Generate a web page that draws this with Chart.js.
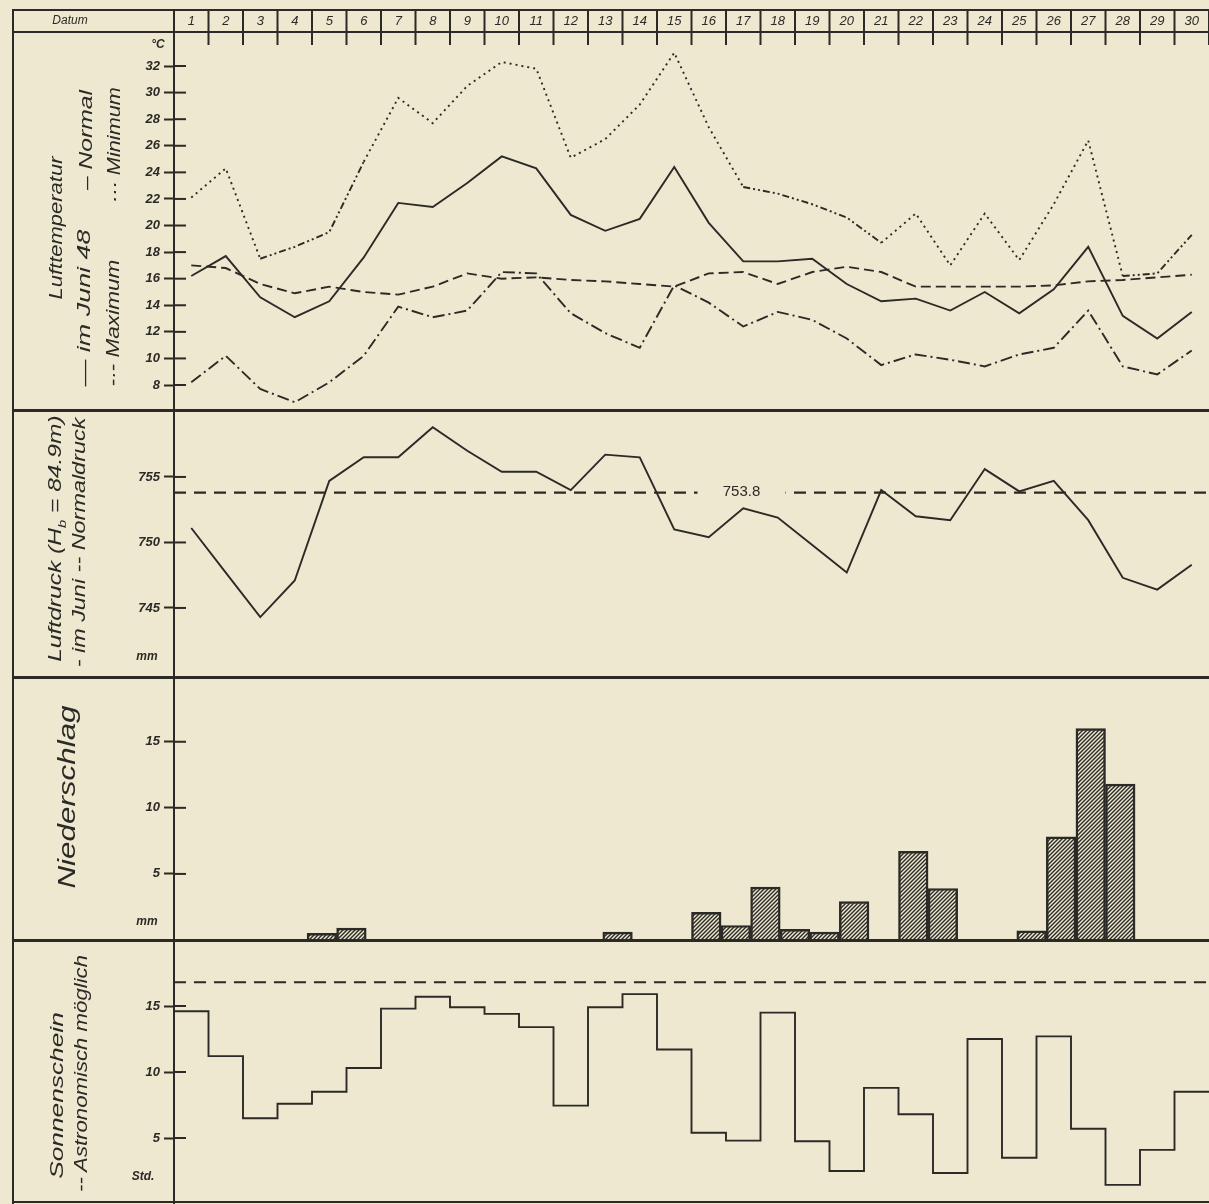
<!DOCTYPE html>
<html><head><meta charset="utf-8">
<script src="https://cdn.jsdelivr.net/npm/chart.js@4.4.1/dist/chart.umd.min.js"></script>
<style>
html,body{margin:0;padding:0;background:#ede8cf;}
#page{position:relative;width:1209px;height:1204px;overflow:hidden;background:#ede8cf;color:#2b2a26;font-family:'Liberation Sans Narrow','Liberation Sans',sans-serif;}
canvas{position:absolute;left:0;}
.ln{position:absolute;background:#2b2a26;}
.vt{position:absolute;white-space:nowrap;font-style:italic;line-height:1;transform-origin:center center;font-family:'Liberation Sans Narrow','Liberation Sans',sans-serif;}
.unit{position:absolute;font-style:italic;font-weight:bold;font-size:12px;font-family:'Liberation Sans Narrow','Liberation Sans',sans-serif;transform:translate(-50%,-50%);}
</style></head>
<body><div id="page">
<canvas id="cT" width="1209" height="410" style="top:0;width:1209px;height:410px"></canvas>
<canvas id="cP" width="1209" height="267" style="top:410px;width:1209px;height:267px"></canvas>
<canvas id="cR" width="1209" height="263" style="top:677px;width:1209px;height:263px"></canvas>
<canvas id="cS" width="1209" height="264" style="top:940px;width:1209px;height:264px"></canvas>
</div>
<script>
// ---------------- DATA ----------------
const days = [1,2,3,4,5,6,7,8,9,10,11,12,13,14,15,16,17,18,19,20,21,22,23,24,25,26,27,28,29,30];
const tempMean   = [16.2,17.7,14.6,13.1,14.3,17.6,21.7,21.4,23.2,25.2,24.3,20.8,19.6,20.5,24.4,20.2,17.3,17.3,17.5,15.6,14.3,14.5,13.6,15.0,13.4,15.2,18.4,13.2,11.5,13.5];
const tempNormal = [17.0,16.8,15.6,14.9,15.4,15.0,14.8,15.4,16.4,16.0,16.1,15.9,15.8,15.6,15.4,16.4,16.5,15.6,16.5,16.9,16.5,15.4,15.4,15.4,15.4,15.5,15.8,15.9,16.1,16.3];
const tempMax    = [22.1,24.3,17.5,18.4,19.5,24.8,29.6,27.7,30.5,32.3,31.8,25.1,26.5,29.1,33.0,27.4,22.9,22.4,21.6,20.6,18.7,20.9,17.0,20.9,17.4,21.6,26.4,16.2,16.4,19.3];
const tempMin    = [8.2,10.2,7.7,6.7,8.2,10.2,13.9,13.1,13.6,16.5,16.4,13.4,11.9,10.8,15.5,14.2,12.4,13.5,12.9,11.5,9.5,10.3,9.9,9.4,10.3,10.8,13.6,9.4,8.8,10.6];
const pressure   = [751.1,747.7,744.3,747.1,754.7,756.5,756.5,758.8,757.0,755.4,755.4,754.0,756.7,756.5,751.0,750.4,752.6,751.9,749.8,747.7,754.0,752.0,751.7,755.6,753.9,754.7,751.7,747.3,746.4,748.3];
const normalPressure = 753.8;
const precip     = [0,0,0.5,0.9,0,0,0,0,0,0,0,0,0.6,0,0,2.1,1.1,4.0,0.8,0.6,2.9,0,6.7,3.9,0,0,0.7,7.8,16.0,11.8];
const sunshine   = [14.6,11.2,6.5,7.6,8.5,10.3,14.8,15.7,14.9,14.4,13.4,7.45,14.9,15.9,11.7,5.4,4.8,14.5,4.75,2.5,8.8,6.8,2.35,12.5,3.5,12.7,5.7,1.45,4.1,8.5];
const sunPossible = 16.8;
const tempTicks = [32,30,28,26,24,22,20,18,16,14,12,10,8];
const pressTicks = [755,750,745];
const precipTicks = [15,10,5];
const sunTicks = [15,10,5];

// ---------------- STYLE ----------------
const INK = '#2b2a26', PAPER = '#ede8cf';
const AXIS_X = 174;
const X_MIN = 0.5, X_MAX = 30.5;
const NUMFONT = "'Liberation Sans Narrow','Liberation Sans',sans-serif";
Chart.defaults.font.family = NUMFONT;

function xAxis(){ return {type:'linear', min:X_MIN, max:X_MAX, display:false}; }
function yAxis(min,max,ticks){
  return {type:'linear', min:min, max:max, position:'left',
    afterBuildTicks: s => { s.ticks = ticks.map(v=>({value:v})); },
    afterFit: s => { s.width = AXIS_X; s.paddingTop = 0; s.paddingBottom = 0; },
    border:{display:false},
    grid:{drawOnChartArea:false, drawTicks:true, tickLength:10, tickWidth:2, tickColor:INK},
    ticks:{color:INK, padding:4, font:{family:NUMFONT, style:'italic', weight:'bold', size:13}}
  };
}
const innerTicks = {id:'innerTicks', afterDraw(chart){
  const s = chart.scales.y, ctx = chart.ctx, L = chart.chartArea.left;
  ctx.save(); ctx.strokeStyle = INK; ctx.lineWidth = 2;
  s.ticks.forEach(t => { const y = s.getPixelForValue(t.value); ctx.beginPath(); ctx.moveTo(L-1,y); ctx.lineTo(L+12,y); ctx.stroke(); });
  ctx.restore();
}};
const header = {id:'header', afterDraw(chart){
  const xs = chart.scales.x, ctx = chart.ctx;
  ctx.save(); ctx.strokeStyle = INK; ctx.lineWidth = 2;
  for (let k=0;k<=days.length;k++){
    const x = xs.getPixelForValue(k+0.5);
    ctx.beginPath(); ctx.moveTo(x,10); ctx.lineTo(x,45); ctx.stroke();
  }
  ctx.fillStyle = INK; ctx.textAlign='center'; ctx.textBaseline='middle';
  ctx.font = "italic 13px " + NUMFONT;
  days.forEach(d => ctx.fillText(String(d), xs.getPixelForValue(d), 21.5));
  ctx.font = "italic 12px " + NUMFONT;
  ctx.fillText('Datum', 70, 21);
  ctx.restore();
}};
const base = {responsive:false, animation:false, events:[], plugins:{legend:{display:false}, tooltip:{enabled:false}}};
function pts(arr){ return days.map((d,i)=>({x:d, y:arr[i]})); }
function lineDS(arr, dash, extra){ return Object.assign({type:'line', data:pts(arr), borderColor:INK, borderWidth:1.9, borderDash:dash, pointRadius:0, tension:0, fill:false}, extra||{}); }

// ---------------- TEMPERATURE ----------------
const dashDotSegs = [2,3,4,16,17,18,19,27,28];
new Chart(document.getElementById('cT'), {
  type:'line',
  data:{datasets:[
    lineDS(tempMean, []),
    lineDS(tempNormal, [10,5]),
    lineDS(tempMax, [2,4], {segment:{borderDash: c => dashDotSegs.includes(c.p0DataIndex) ? [7,3,2,3,2,3] : undefined}}),
    lineDS(tempMin, [12,4,2,4])
  ]},
  options: Object.assign({}, base, {
    layout:{padding:{top:32,left:0,right:0,bottom:0}},
    scales:{x:xAxis(), y:yAxis(6.12,34.56,tempTicks)}
  }),
  plugins:[innerTicks, header]
});

// ---------------- PRESSURE ----------------
const pLabel = {id:'pLabel', afterDatasetsDraw(chart){
  const ctx = chart.ctx, y = chart.scales.y.getPixelForValue(normalPressure), x = chart.scales.x.getPixelForValue(16.95);
  ctx.save(); ctx.fillStyle = PAPER; ctx.fillRect(x-44, y-9, 88, 18);
  ctx.fillStyle = INK; ctx.font = "15px 'Liberation Sans',sans-serif"; ctx.textAlign='center'; ctx.textBaseline='middle';
  ctx.fillText(normalPressure.toFixed(1), x, y-1); ctx.restore();
}};
new Chart(document.getElementById('cP'), {
  type:'line',
  data:{datasets:[
    lineDS(pressure, []),
    {type:'line', data:[{x:X_MIN,y:normalPressure},{x:X_MAX,y:normalPressure}], borderColor:INK, borderWidth:2.2, borderDash:[12,8], pointRadius:0, fill:false}
  ]},
  options: Object.assign({}, base, {
    layout:{padding:0},
    scales:{x:xAxis(), y:yAxis(739.73,760.11,pressTicks)}
  }),
  plugins:[innerTicks, pLabel]
});

// ---------------- PRECIPITATION ----------------
const rCanvas = document.getElementById('cR');
function hatch(){
  const c = document.createElement('canvas'); c.width = 4; c.height = 4;
  const g = c.getContext('2d'); g.strokeStyle = INK; g.lineWidth = 1.4;
  g.beginPath(); g.moveTo(0,4); g.lineTo(4,0); g.moveTo(-1,1); g.lineTo(1,-1); g.moveTo(3,5); g.lineTo(5,3); g.stroke();
  return rCanvas.getContext('2d').createPattern(c,'repeat');
}
new Chart(rCanvas, {
  type:'bar',
  data:{datasets:[{data: days.map((d,i)=>({x:d, y: precip[i] > 0 ? precip[i] : null})),
    backgroundColor: hatch(), borderColor:INK, borderWidth:1.8, borderSkipped:'bottom',
    barPercentage:1, categoryPercentage:1}]},
  options: Object.assign({}, base, {
    layout:{padding:0},
    scales:{x:xAxis(), y:yAxis(0,19.9,precipTicks)}
  }),
  plugins:[innerTicks]
});

// ---------------- SUNSHINE ----------------
const sunSteps = days.map((d,i)=>({x:d-0.5, y:sunshine[i]})).concat([{x:X_MAX, y:sunshine[sunshine.length-1]}]);
new Chart(document.getElementById('cS'), {
  type:'line',
  data:{datasets:[
    {data:sunSteps, stepped:'before', borderColor:INK, borderWidth:1.9, pointRadius:0, fill:false},
    {data:[{x:X_MIN,y:sunPossible},{x:X_MAX,y:sunPossible}], borderColor:INK, borderWidth:2, borderDash:[12,8], pointRadius:0, fill:false}
  ]},
  options: Object.assign({}, base, {
    layout:{padding:0},
    scales:{x:xAxis(), y:yAxis(0,20.0,sunTicks)}
  }),
  plugins:[innerTicks]
});

// ---------------- FRAME & LABELS ----------------
const page = document.getElementById('page');
function line(x,y,w,h){ const d=document.createElement('div'); d.className='ln'; Object.assign(d.style,{left:x+'px',top:y+'px',width:w+'px',height:h+'px'}); page.appendChild(d); }
line(12,9,1197,1.5);      // top border
line(12,31,1197,2);       // header bottom
line(12,409,1197,2.5);
line(12,676,1197,2.5);
line(12,939,1197,2.5);
line(12,1201,1197,2);
line(12,9,1.6,1195);      // left border
line(173,9,2,1195);       // axis line

function vtext(html, cx, cy, len, size){
  const d = document.createElement('div'); d.className='vt'; d.innerHTML = html; d.style.fontSize = size+'px';
  page.appendChild(d);
  const w = d.offsetWidth, h = d.offsetHeight;
  d.style.left = (cx - w/2)+'px'; d.style.top = (cy - h/2)+'px';
  d.style.transform = 'rotate(-90deg) scaleX(' + (len/w).toFixed(3) + ')';
}
vtext('Lufttemperatur', 55, 228, 143, 18);
vtext('— im Juni 48', 83, 308, 157, 18);
vtext('– Normal', 85, 140, 100, 18);
vtext('-·- Maximum', 112, 323, 127, 18);
vtext('··· Minimum', 114, 145, 116, 18);
vtext('Luftdruck (H<sub style="font-size:0.6em">b</sub> = 84.9m)', 56, 538, 247, 19);
vtext('- im Juni -- Normaldruck', 78, 542, 250, 19);
vtext('Niederschlag', 67, 797, 183, 24);
vtext('Sonnenschein', 56, 1095, 166, 19);
vtext('-- Astronomisch möglich', 80, 1073, 237, 19);

function unit(t,x,y){ const d=document.createElement('div'); d.className='unit'; d.textContent=t; d.style.left=x+'px'; d.style.top=y+'px'; page.appendChild(d); }
unit('°C',158,44); unit('mm',147,656); unit('mm',147,921); unit('Std.',143,1176);
</script>
</body></html>
